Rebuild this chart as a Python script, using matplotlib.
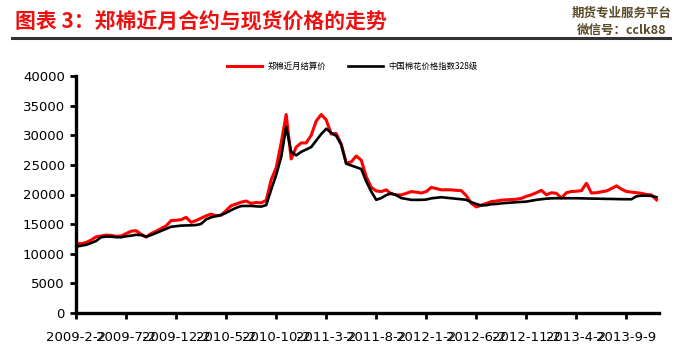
import matplotlib
matplotlib.use("Agg")
import matplotlib.pyplot as plt

plt.rcParams['font.family'] = ['DejaVu Sans', 'Noto Sans CJK SC']

# weekly samples, 10 samples between labelled ticks
futures = [11770, 11700, 11900, 12300, 12850, 13000, 13150, 13100, 12950, 13000,
           13400, 13800, 13900, 13300, 12800, 13400, 13800, 14250, 14700, 15600,
           15650, 15750, 16150, 15300, 15600, 16000, 16400, 16700, 16400, 16500,
           17300, 18100, 18400, 18700, 18900, 18500, 18650, 18600, 19000, 22500,
           24500, 28700, 33500, 26000, 28000, 28700, 28700, 30000, 32400, 33500,
           32600, 30200, 30300, 28500, 25300, 25500, 26500, 25800, 23000, 21200,
           20600, 20500, 20780, 20100, 19930, 19930, 20200, 20490, 20400, 20250,
           20500, 21200, 21000, 20780, 20800, 20780, 20700, 20660, 19800, 18500,
           17900, 18200, 18500, 18800, 18900, 19050, 19100, 19150, 19200, 19350,
           19700, 19950, 20300, 20700, 19950, 20300, 20200, 19400, 20300, 20500,
           20550, 20650, 21900, 20250, 20300, 20450, 20600, 21000, 21450, 20900,
           20500, 20400, 20300, 20200, 20000, 19930, 19100]

spot = [11200, 11350, 11500, 11800, 12150, 12780, 12900, 12880, 12800, 12780,
        12950, 13050, 13200, 13150, 12900, 13150, 13500, 13850, 14200, 14550,
        14650, 14750, 14780, 14800, 14850, 15030, 15800, 16150, 16350, 16550,
        16900, 17350, 17750, 18050, 18070, 18070, 18000, 17960, 18200, 20800,
        23300, 26300, 31400, 27200, 26600, 27200, 27600, 28000, 29100, 30200,
        31100, 30400, 29900, 28400, 25200, 24900, 24600, 24300, 22200, 20500,
        19100, 19400, 19900, 20200, 19900, 19400, 19250, 19100, 19090, 19100,
        19150, 19350, 19450, 19540, 19450, 19370, 19280, 19200, 19100, 18700,
        18400, 18150, 18200, 18360, 18400, 18500, 18580, 18630, 18700, 18750,
        18800, 18950, 19100, 19200, 19300, 19350, 19370, 19370, 19370, 19370,
        19370, 19350, 19330, 19310, 19300, 19280, 19260, 19250, 19230, 19210,
        19200, 19200, 19700, 19800, 19800, 19760, 19550]

tick_labels = ["2009-2-2", "2009-7-2", "2009-12-2", "2010-5-2", "2010-10-2", "2011-3-2",
               "2011-8-2", "2012-1-2", "2012-6-2", "2012-11-2", "2013-4-2", "2013-9-9"]

fig = plt.figure(figsize=(6.8, 3.5), dpi=100)
ax = fig.add_axes([76/680, 1 - 313/350, 583/680, 237/350])

x = list(range(len(futures)))
ax.plot(x, futures, color='#ff0000', lw=2.2, label='郑棉近月结算价')
ax.plot(x, spot, color='black', lw=1.9, label='中国棉花价格指数328级')

ax.set_xlim(0, 116.5)
ax.set_ylim(0, 40000)
ax.set_yticks(range(0, 40001, 5000))
ax.set_xticks(range(0, 111, 10))
ax.set_xticklabels(tick_labels)
ax.tick_params(labelsize=9.5, width=2, length=4, direction='out', pad=4)
ax.tick_params(axis='x', pad=9)

for s in ['top', 'right']:
    ax.spines[s].set_visible(False)
for s in ['left', 'bottom']:
    ax.spines[s].set_linewidth(2.4)

ax.legend(loc='center', bbox_to_anchor=(0.518, 0.809), bbox_transform=fig.transFigure,
          ncol=2, frameon=False, prop={'family': 'Noto Sans CJK SC', 'size': 6},
          handlelength=4.2, handletextpad=0.6, columnspacing=2.6)

# header
fig.text(15/680, 1 - 21/350, '图表 3：郑棉近月合约与现货价格的走势', color='#ee1111',
         fontsize=15, fontweight='bold', family='Noto Sans CJK SC', va='center', ha='left')
fig.text(622/680, 1 - 13/350, '期货专业服务平台', color='#5a4a28', fontsize=9,
         fontweight='bold', family='Noto Sans CJK SC', va='center', ha='center')
fig.text(622/680, 1 - 30/350, '微信号：cclk88', color='#5a4a28', fontsize=9,
         fontweight='bold', family=['Noto Sans CJK SC'], va='center', ha='center')
fig.add_artist(plt.Line2D([12/680, 670/680], [1 - 38/350, 1 - 38/350], color='#333333',
                          lw=2.2, transform=fig.transFigure))

fig.savefig('out.png', dpi=100)
